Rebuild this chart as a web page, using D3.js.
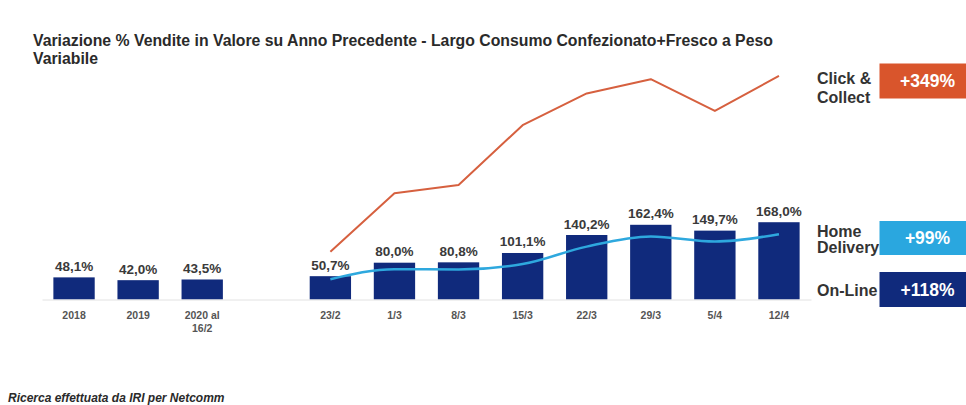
<!DOCTYPE html>
<html>
<head>
<meta charset="utf-8">
<script src="https://cdn.jsdelivr.net/npm/d3@7"></script>
<style>
  html, body { margin: 0; padding: 0; background: #fff; }
  svg { display: block; font-family: "Liberation Sans", Arial, sans-serif; }
</style>
</head>
<body>
<svg id="chart" width="966" height="405"></svg>
<script>
// Periods before the lockdown and weekly points after it
const periods = ["2018", "2019", "2020 al\n16/2"];
const weeks = ["23/2", "1/3", "8/3", "15/3", "22/3", "29/3", "5/4", "12/4"];

// On-Line sales change (%) — bars
const onlineValues = [48.1, 42.0, 43.5, 50.7, 80.0, 80.8, 101.1, 140.2, 162.4, 149.7, 168.0];
// Click & Collect (%) — weekly line
const clickCollectValues = [104, 231, 249, 379, 448, 479, 410, 486];
// Home Delivery (%) — weekly line
const homeDeliveryValues = [44, 66, 65, 77, 115, 137, 126, 142];

// Summary badges on the right
const badgeNames = ["Click &\nCollect", "Home\nDelivery", "On-Line"];
const badgeTexts = ["+349%", "+99%", "+118%"];

const titleLines = [
  "Variazione % Vendite in Valore su Anno Precedente - Largo Consumo Confezionato+Fresco a Peso",
  "Variabile"
];
const footnote = "Ricerca effettuata da IRI per Netcomm";

const COLORS = {
  bar: "#102a7c",
  click: "#d6603f",
  clickBadge: "#d9552c",
  home: "#2ea8de",
  homeBadge: "#2aa7df",
  label: "#3a3a3a",
  tick: "#555",
  baseline: "#e2e2e2"
};

const svg = d3.select("#chart");
const itFormat = d3.formatLocale({ decimal: ",", thousands: ".", grouping: [3], currency: ["€", ""] }).format(".1f");

// One empty slot separates the yearly periods from the weekly points
const GAP = "__gap__";
const xDomain = [...periods, GAP, ...weeks];
const x = d3.scaleBand()
  .domain(xDomain)
  .range([42, 811])
  .paddingInner(0.355)
  .paddingOuter(0.1775);

const y = d3.scaleLinear().domain([0, 500]).range([299.5, 69.5]);

// Title
svg.append("g")
  .selectAll("text")
  .data(titleLines)
  .join("text")
  .attr("x", 33)
  .attr("y", (d, i) => 46 + i * 18)
  .attr("font-size", 15.8)
  .attr("font-weight", "bold")
  .attr("fill", "#2a2a2a")
  .text(d => d);

// Bars
const barData = [...periods, ...weeks].map((c, i) => ({ cat: c, value: onlineValues[i] }));

svg.append("g")
  .selectAll("rect")
  .data(barData)
  .join("rect")
  .attr("x", d => x(d.cat))
  .attr("width", x.bandwidth())
  .attr("y", d => y(d.value))
  .attr("height", d => y(0) - y(d.value))
  .attr("fill", COLORS.bar);

// Category axis along the baseline
const axis = d3.axisBottom(x)
  .tickValues(xDomain.filter(d => d !== GAP))
  .tickSize(0)
  .tickSizeOuter(0)
  .tickPadding(0);

const axisG = svg.append("g")
  .attr("transform", `translate(0,${y(0)})`)
  .call(axis);
axisG.select(".domain").attr("stroke", COLORS.baseline).attr("stroke-width", 1);
axisG.selectAll(".tick text")
  .attr("font-family", "Liberation Sans, Arial, sans-serif")
  .attr("font-size", 10.5)
  .attr("font-weight", "bold")
  .attr("fill", COLORS.tick)
  .attr("dy", null)
  .attr("y", 19)
  .each(function (d) {
    const parts = d.split("\n");
    const t = d3.select(this).text(null);
    parts.forEach((p, i) => {
      t.append("tspan").attr("x", 0).attr("dy", i === 0 ? 0 : 13.4).text(p);
    });
  });

// Value labels above bars
svg.append("g")
  .selectAll("text")
  .data(barData)
  .join("text")
  .attr("x", d => x(d.cat) + x.bandwidth() / 2)
  .attr("y", d => y(d.value) - 6.5)
  .attr("text-anchor", "middle")
  .attr("font-size", 13.5)
  .attr("font-weight", "bold")
  .attr("fill", COLORS.label)
  .text(d => itFormat(d.value) + "%");

// Weekly lines
const cx = c => x(c) + x.bandwidth() / 2;

const clickLine = d3.line()
  .x((d, i) => cx(weeks[i]))
  .y(d => y(d));

svg.append("path")
  .datum(clickCollectValues)
  .attr("d", clickLine)
  .attr("fill", "none")
  .attr("stroke", COLORS.click)
  .attr("stroke-width", 2)
  .attr("stroke-linejoin", "round");

const homeLine = d3.line()
  .x((d, i) => cx(weeks[i]))
  .y(d => y(d))
  .curve(d3.curveMonotoneX);

svg.append("path")
  .datum(homeDeliveryValues)
  .attr("d", homeLine)
  .attr("fill", "none")
  .attr("stroke", COLORS.home)
  .attr("stroke-width", 2.5)
  .attr("stroke-linejoin", "round");

// Badges with series names
const badgeLayout = [
  { top: 63.5, h: 35, fill: COLORS.clickBadge, nameY: [84, 102.5] },
  { top: 221, h: 34, fill: COLORS.homeBadge, nameY: [236.5, 252.5] },
  { top: 272, h: 35, fill: COLORS.bar, nameY: [296] }
];

const badges = svg.append("g")
  .selectAll("g")
  .data(badgeNames.map((n, i) => ({ name: n, text: badgeTexts[i], ...badgeLayout[i] })))
  .join("g");

badges.append("rect")
  .attr("x", 879.5)
  .attr("y", d => d.top)
  .attr("width", 966 - 879.5)
  .attr("height", d => d.h)
  .attr("fill", d => d.fill);

badges.append("text")
  .attr("x", 927.5)
  .attr("y", d => d.top + d.h / 2 + 6.3)
  .attr("text-anchor", "middle")
  .attr("font-size", 17.5)
  .attr("font-weight", "bold")
  .attr("fill", "#fff")
  .text(d => d.text);

badges.each(function (d) {
  const g = d3.select(this);
  d.name.split("\n").forEach((line, i) => {
    g.append("text")
      .attr("x", 817)
      .attr("y", d.nameY[i])
      .attr("font-size", 16)
      .attr("font-weight", "bold")
      .attr("fill", "#333")
      .text(line);
  });
});

// Footnote
svg.append("text")
  .attr("x", 8)
  .attr("y", 402)
  .attr("font-size", 12)
  .attr("font-weight", "bold")
  .attr("font-style", "italic")
  .attr("fill", "#2a2a2a")
  .text(footnote);
</script>
</body>
</html>
